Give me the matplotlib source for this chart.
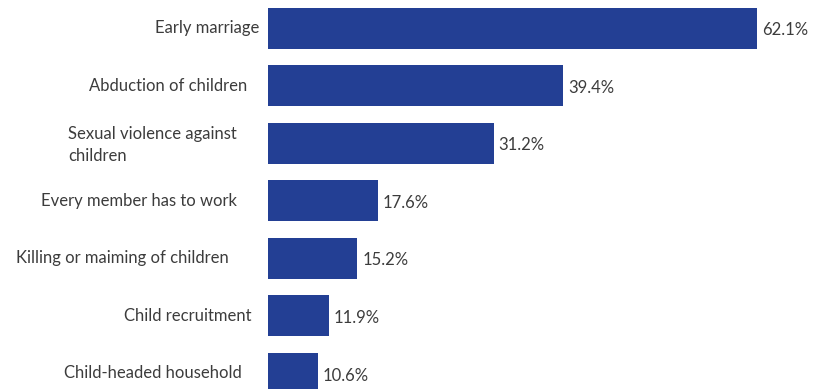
import matplotlib.pyplot as plt

categories = ["Early marriage",
              "Abduction of children",
              "Sexual violence against\nchildren",
              "Every member has to work",
              "Killing or maiming of children",
              "Child recruitment",
              "Child-headed household"]
shares = [62.1, 39.4, 31.2, 17.6, 15.2, 11.9, 10.6]

# gap (px) between each category label and the bar start
label_gap = [9, 21, 31, 31, 39, 16, 26]

bar_color = '#233f94'
text_color = '#3c3c3c'

plt.rcParams['font.family'] = ['Lato', 'DejaVu Sans']

fig = plt.figure(figsize=(8.17, 3.89), dpi=100)
ax = fig.add_axes([268/817, 0, 549/817, 1])

ypos = list(range(len(categories)))
ax.barh(ypos, shares, height=0.71, color=bar_color)

ax.set_xlim(4.72, 4.72 + 549/8.52)
ax.set_ylim(6.27, -0.49)
ax.axis('off')

for y, name, gap in zip(ypos, categories, label_gap):
    ax.annotate(name, xy=(0, y), xycoords=('axes fraction', 'data'),
                xytext=(-gap*0.72, -1.0 if '\n' in name else 0),
                textcoords='offset points',
                ha='right', va='center', multialignment='left',
                fontsize=12, color=text_color, fontweight='normal',
                linespacing=1.45)

for y, v in zip(ypos, shares):
    ax.annotate('%.1f%%' % v, xy=(v, y), xytext=(3.5, -1.5),
                textcoords='offset points', ha='left', va='center',
                fontsize=12, color=text_color, fontweight='normal')

plt.savefig('out.png', dpi=100)
